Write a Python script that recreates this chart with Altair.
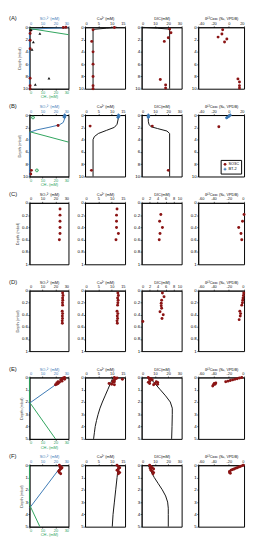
import altair as alt
import pandas as pd

RED = "#8b1414"
BLUE = "#3b78b4"
GREEN = "#2ca25a"
BLACK = "#111111"

# ---------------- data ----------------
# Row A
A_so4_d = [0, 0.05, 0.5, 1.0, 2.1, 3.5, 8.3, 9.5, 10]
A_so4_v = [28, 26, 1, 0.5, 0.5, 0.5, 0.5, 0.5, 0.5]
A_so4m_d = [0, 0.1, 0.2, 0.35, 0.5, 10]
A_so4m_v = [30, 27, 12, 2, 0, 0]
A_ch4m_d = [0.2, 1.2]
A_ch4m_v = [0, 30]
A_ch4_d = [0.4, 1.0, 2.4, 3.6, 8.3, 9.3]
A_ch4_v = [1, 8, 3, 2, 15, 4.5]
A_ca_d = [0.05, 0.4, 2.3, 4, 6, 8, 9.5, 10]
A_ca_v = [11, 3, 2.5, 3, 3, 3, 3, 3]
A_cam_d = [0, 0.15, 0.35, 10]
A_cam_v = [12, 8, 3, 3]
A_dic_d = [0.3, 0.9, 1.7, 2.3, 8.5, 9.4, 9.9]
A_dic_v = [21, 22, 20, 17, 14, 18, 18]
A_dicm_d = [0, 0.15, 0.3, 10]
A_dicm_v = [0, 12, 21, 21]
A_c13_d = [0.4, 1.1, 1.6, 1.9, 2.4, 8.4, 8.9, 9.5, 9.9]
A_c13_v = [-8, -9, -14, -2.5, -5.5, 12, 14, 14, 14]

# Row B
B_so4_d = [1.7, 9.0, 9.6]
B_so4_v = [22, 1.5, 1]
B_so4bt_d = [0, 0.1, 0.2, 0.3, 0.4]
B_so4bt_v = [27, 27.5, 27, 26.5, 27]
B_so4m_d = [0, 0.6, 1.2, 1.6, 2.0, 2.4, 2.8, 10]
B_so4m_v = [27, 27, 26, 23, 15, 6, 0, 0]
B_ch4m_d = [2.7, 4.4]
B_ch4m_v = [0, 30]
B_ch4_d = [0.4, 9.0]
B_ch4_v = [2.7, 5.7]
B_ca_d = [1.8, 9.0]
B_ca_v = [1.9, 2.4]
B_cabt_d = [0, 0.1, 0.2, 0.3, 0.4]
B_cabt_v = [12.5, 12.8, 12.4, 12.6, 12.3]
B_cam_d = [0, 0.5, 1.5, 2.0, 2.5, 3.0, 3.5, 4.0, 10]
B_cam_v = [12.5, 12.5, 12, 11, 8, 5, 3.5, 3, 3]
B_dic_d = [1.8, 9.0]
B_dic_v = [8, 20]
B_dicbt_d = [0, 0.1, 0.2, 0.3, 0.4]
B_dicbt_v = [5, 5.3, 4.8, 5.2, 5]
B_dicm_d = [0, 1.0, 1.5, 1.9, 2.2, 2.6, 3.0, 10]
B_dicm_v = [5, 5, 5.5, 7, 12, 19, 21, 21]
B_c13_d = [1.9, 9.0]
B_c13_v = [-13, 14.5]
B_c13bt_d = [0, 0.1, 0.2, 0.3, 0.4, 0.45]
B_c13bt_v = [2, 1, 0, -1, -2, -3]
B_sites = ["SO3C", "BT-2"]

# Row C
C_d = [0.1, 0.2, 0.3, 0.4, 0.5, 0.6]
C_so4_v = [23.5, 23.5, 23.5, 23.5, 23.5, 23]
C_ca_v = [12, 11.8, 11.8, 11.8, 12.5, 11.6]
C_dic_d = [0.19, 0.3, 0.4, 0.5, 0.6]
C_dic_v = [4.8, 4.5, 5.2, 4.6, 4.4]
C_c13_v = [0, -2, -7, -4, -3]

# Row D
D_d = [0.04, 0.08, 0.12, 0.16, 0.2, 0.24, 0.34, 0.38, 0.42, 0.46, 0.5, 0.54]
D_so4_v = [25.5, 25.8, 25.5, 25.6, 25.4, 25.5, 25.2, 25.5, 25.3, 25.4, 25.2, 25.3]
D_ca_v = [12.3, 12.5, 12.2, 12.4, 12.3, 12.2, 12.0, 12.3, 12.1, 12.2, 12.0, 12.1]
D_dic_d = [0.04, 0.1, 0.16, 0.21, 0.25, 0.29, 0.35, 0.4, 0.46, 0.51]
D_dic_v = [5.2, 5.6, 5.0, 4.9, 4.9, 5.0, 4.6, 5.4, 5.1, 0.3]
D_c13_d = [0.04, 0.08, 0.12, 0.16, 0.2, 0.24, 0.34, 0.38, 0.42, 0.48]
D_c13_v = [-0.4, -0.8, -1.3, -1.7, -2.1, -3, -5.5, -4.5, -5, -6.4]

# Row E
E_so4_d = [0, 0.05, 0.1, 0.15, 0.2, 0.3, 0.35, 0.4, 0.45, 0.5, 0.55, 0.6]
E_so4_v = [27, 26, 25, 27, 24, 25, 22, 23, 21, 22, 21, 20]
E_so4m_d = [0, 2.1, 2.8]
E_so4m_v = [28, 0, 0]
E_ch4m_d = [0, 2.0, 5]
E_ch4m_v = [0, 0, 20]
E_ca_d = [0, 0.05, 0.1, 0.15, 0.2, 0.3, 0.35, 0.4, 0.5, 0.55, 0.6]
E_ca_v = [11, 12, 11.5, 14, 11, 10.5, 11, 10.5, 9, 10, 11]
E_cam_d = [0, 0.5, 1, 1.5, 2, 2.5, 3, 3.5, 4, 4.5, 5]
E_cam_v = [10.5, 9.5, 8.5, 7.5, 6.5, 5.6, 4.9, 4.3, 3.8, 3.5, 3.2]
E_dic_d = [0, 0.1, 0.15, 0.2, 0.3, 0.35, 0.4, 0.4, 0.5, 0.5, 0.55, 0.6]
E_dic_v = [5, 7, 6, 8, 6, 11, 5, 12, 10, 6, 12, 9]
E_dicm_d = [0, 0.5, 1, 1.5, 2, 2.5, 3, 4, 5]
E_dicm_v = [6, 10, 14, 18, 21.5, 23, 23, 22.8, 22.5]
E_c13_d = [0, 0.05, 0.1, 0.15, 0.2, 0.25, 0.3, 0.35, 0.45, 0.5, 0.55, 0.6, 0.7]
E_c13_v = [-3, -6, -9, -12, -15, -18, -21, -24, -37, -39, -38, -40, -41]

# Row F
F_so4_d = [0, 0.1, 0.15, 0.2, 0.25, 0.3, 0.4, 0.5, 0.6, 0.7]
F_so4_v = [23, 24, 23.5, 25, 24.5, 24, 23, 22.5, 23, 24]
F_so4m_d = [0, 3.5]
F_so4m_v = [25, 0]
F_ch4m_d = [0, 3.2, 5]
F_ch4m_v = [0, 0, 8]
F_ca_d = [0, 0.1, 0.2, 0.3, 0.4, 0.5, 0.6, 0.7]
F_ca_v = [12, 12.5, 13, 12.5, 12, 12.5, 13, 12.5]
F_cam_d = [0, 1, 2, 3, 4, 5]
F_cam_v = [12.5, 12, 11.5, 11, 10.5, 10.2]
F_dic_d = [0, 0.1, 0.2, 0.25, 0.3, 0.4, 0.5, 0.6, 0.7]
F_dic_v = [6, 7, 8, 6.5, 9, 7, 8, 9, 8.5]
F_dicm_d = [0, 0.5, 1, 1.5, 2, 2.5, 3, 3.5, 4, 5]
F_dicm_v = [5, 7, 9.5, 12.5, 15.5, 18, 19.5, 20, 20, 20]
F_c13_d = [0, 0.05, 0.1, 0.15, 0.2, 0.25, 0.3, 0.35, 0.4, 0.5, 0.6, 0.65]
F_c13_v = [-1, -3, -5, -7, -9, -11, -13, -15, -17, -19, -19, -18]

# axis settings
Y_DEEP = ([0, 10], [0, 2, 4, 6, 8, 10])
Y_SHALLOW = ([0, 1], [0, 0.2, 0.4, 0.6, 0.8, 1])
Y_MID = ([0, 5], [0, 1, 2, 3, 4, 5])
X_30 = ([0, 30], [0, 10, 20, 30])
X_15 = ([0, 15], [0, 5, 10, 15])
X_10 = ([0, 10], [0, 2, 4, 6, 8, 10])
X_C13A = ([-40, 20], [-40, -20, 0, 20])
X_C13C = ([-60, 0], [-60, -40, -20, 0])

T_SO4 = "SO\u2084\u00b2\u207b (mM)"
T_CA = "Ca\u00b2\u207a (mM)"
T_DIC = "DIC(mM)"
T_C13 = "\u03b4\u00b9\u00b3C\u1d05\u026a\u1d04 (\u2030, VPDB)"
T_CH4 = "CH\u2084 (mM)"

W = [40, 41, 41, 47]
ROW_H = {"A": 63, "B": 63, "C": 63, "D": 62, "E": 63, "F": 63}
LBL = "'' + datum.value"


def df_of(d, v):
    return pd.DataFrame({"d": d, "v": v, "i": list(range(len(d)))})


def leg():
    return alt.Legend(orient="bottom-right", title=None, labelFontSize=4, symbolSize=8,
                      padding=2, offset=3, rowPadding=0, labelOffset=1,
                      strokeColor="black", fillColor="white", labelFont="Liberation Sans")


def build(row, col, label, ydef, xdef, xtitle, tcolor, points, lines,
          bottom=None, legend_pts=None):
    H = ROW_H[row]
    ydom, yticks = ydef
    xdom, xticks = xdef
    xax = alt.Axis(orient="top", values=xticks, title=xtitle, labelExpr=LBL,
                   titleColor=tcolor, labelColor=tcolor)
    xenc = alt.X("v:Q", scale=alt.Scale(domain=xdom, nice=False, zero=False), axis=xax)
    yax = alt.Axis(values=yticks, title="Depth (mbsf)" if col == 0 else None, labelExpr=LBL,
                   titleColor="#444444")
    yenc = alt.Y("d:Q", scale=alt.Scale(domain=ydom, reverse=True, nice=False), axis=yax)

    layers = []
    for (d, v, color) in lines:
        layers.append(alt.Chart(df_of(d, v)).mark_line(color=color, strokeWidth=1)
                      .encode(x=xenc, y=yenc, order="i:Q"))
    for (d, v, color, shape) in points:
        layers.append(alt.Chart(df_of(d, v)).mark_point(
            filled=True, size=9, color=color, shape=shape, opacity=1, strokeWidth=0.8)
            .encode(x=xenc, y=yenc))
    if legend_pts is not None:
        layers.append(alt.Chart(legend_pts).mark_point(filled=True, size=9, opacity=1)
                      .encode(x=xenc, y=yenc,
                              color=alt.Color("site:N", scale=alt.Scale(domain=B_sites, range=[RED, BLUE]),
                                              legend=leg()),
                              shape=alt.Shape("site:N", scale=alt.Scale(domain=B_sites, range=["circle", "cross"]),
                                              legend=leg())))
    if label:
        layers.append(alt.Chart(pd.DataFrame({"t": [label]})).mark_text(
            align="left", baseline="middle", fontSize=6, font="Liberation Sans", color="#222222")
            .encode(x=alt.value(-21), y=alt.value(-9), text="t:N"))
    main = alt.layer(*layers)
    if bottom is None:
        return main.properties(width=W[col], height=H)

    bax = alt.Axis(orient="bottom", values=X_30[1], title=T_CH4, labelExpr=LBL,
                   titleColor=GREEN, labelColor=GREEN)
    benc = alt.X("v:Q", scale=alt.Scale(domain=X_30[0], nice=False, zero=False), axis=bax)
    blayers = []
    for (d, v, color) in bottom.get("lines", []):
        blayers.append(alt.Chart(df_of(d, v)).mark_line(color=color, strokeWidth=1)
                       .encode(x=benc, y=yenc, order="i:Q"))
    for (d, v, color, shape) in bottom.get("points", []):
        blayers.append(alt.Chart(df_of(d, v)).mark_point(
            filled=shape != "cross", size=9, color=color, shape=shape, opacity=1, strokeWidth=0.8)
            .encode(x=benc, y=yenc))
    return alt.layer(main, alt.layer(*blayers)).resolve_scale(x="independent").properties(
        width=W[col], height=H)


panels = []
# Row A
panels.append(build("A", 0, "(A)", Y_DEEP, X_30, T_SO4, BLUE,
                    [(A_so4_d, A_so4_v, RED, "circle")],
                    [(A_so4m_d, A_so4m_v, BLUE)],
                    bottom={"lines": [(A_ch4m_d, A_ch4m_v, GREEN)],
                            "points": [(A_ch4_d, A_ch4_v, BLACK, "triangle-up")]}))
panels.append(build("A", 1, None, Y_DEEP, X_15, T_CA, BLACK,
                    [(A_ca_d, A_ca_v, RED, "circle")], [(A_cam_d, A_cam_v, BLACK)]))
panels.append(build("A", 2, None, Y_DEEP, X_30, T_DIC, BLACK,
                    [(A_dic_d, A_dic_v, RED, "circle")], [(A_dicm_d, A_dicm_v, BLACK)]))
panels.append(build("A", 3, None, Y_DEEP, X_C13A, T_C13, BLACK,
                    [(A_c13_d, A_c13_v, RED, "circle")], []))
# Row B
panels.append(build("B", 0, "(B)", Y_DEEP, X_30, T_SO4, BLUE,
                    [(B_so4_d, B_so4_v, RED, "circle"), (B_so4bt_d, B_so4bt_v, BLUE, "cross")],
                    [(B_so4m_d, B_so4m_v, BLUE)],
                    bottom={"lines": [(B_ch4m_d, B_ch4m_v, GREEN)],
                            "points": [(B_ch4_d, B_ch4_v, GREEN, "cross")]}))
panels.append(build("B", 1, None, Y_DEEP, X_15, T_CA, BLACK,
                    [(B_ca_d, B_ca_v, RED, "circle"), (B_cabt_d, B_cabt_v, BLUE, "cross")],
                    [(B_cam_d, B_cam_v, BLACK)]))
panels.append(build("B", 2, None, Y_DEEP, X_30, T_DIC, BLACK,
                    [(B_dic_d, B_dic_v, RED, "circle"), (B_dicbt_d, B_dicbt_v, BLUE, "cross")],
                    [(B_dicm_d, B_dicm_v, BLACK)]))
B_leg = pd.DataFrame({"d": B_c13_d + B_c13bt_d, "v": B_c13_v + B_c13bt_v,
                      "site": [B_sites[0]] * len(B_c13_d) + [B_sites[1]] * len(B_c13bt_d)})
panels.append(build("B", 3, None, Y_DEEP, X_C13A, T_C13, BLACK, [], [], legend_pts=B_leg))
# Row C
panels.append(build("C", 0, "(C)", Y_SHALLOW, X_30, T_SO4, BLACK, [(C_d, C_so4_v, RED, "circle")], []))
panels.append(build("C", 1, None, Y_SHALLOW, X_15, T_CA, BLACK, [(C_d, C_ca_v, RED, "circle")], []))
panels.append(build("C", 2, None, Y_SHALLOW, X_10, T_DIC, BLACK, [(C_dic_d, C_dic_v, RED, "circle")], []))
panels.append(build("C", 3, None, Y_SHALLOW, X_C13C, T_C13, BLACK, [(C_dic_d, C_c13_v, RED, "circle")], []))
# Row D
panels.append(build("D", 0, "(D)", Y_SHALLOW, X_30, T_SO4, BLACK, [(D_d, D_so4_v, RED, "circle")], []))
panels.append(build("D", 1, None, Y_SHALLOW, X_15, T_CA, BLACK, [(D_d, D_ca_v, RED, "circle")], []))
panels.append(build("D", 2, None, Y_SHALLOW, X_10, T_DIC, BLACK, [(D_dic_d, D_dic_v, RED, "circle")], []))
panels.append(build("D", 3, None, Y_SHALLOW, X_C13C, T_C13, BLACK, [(D_c13_d, D_c13_v, RED, "circle")], []))
# Row E
panels.append(build("E", 0, "(E)", Y_MID, X_30, T_SO4, BLUE,
                    [(E_so4_d, E_so4_v, RED, "circle")], [(E_so4m_d, E_so4m_v, BLUE)],
                    bottom={"lines": [(E_ch4m_d, E_ch4m_v, GREEN)]}))
panels.append(build("E", 1, None, Y_MID, X_15, T_CA, BLACK,
                    [(E_ca_d, E_ca_v, RED, "circle")], [(E_cam_d, E_cam_v, BLACK)]))
panels.append(build("E", 2, None, Y_MID, X_30, T_DIC, BLACK,
                    [(E_dic_d, E_dic_v, RED, "circle")], [(E_dicm_d, E_dicm_v, BLACK)]))
panels.append(build("E", 3, None, Y_MID, X_C13C, T_C13, BLACK, [(E_c13_d, E_c13_v, RED, "circle")], []))
# Row F
panels.append(build("F", 0, "(F)", Y_MID, X_30, T_SO4, BLUE,
                    [(F_so4_d, F_so4_v, RED, "circle")], [(F_so4m_d, F_so4m_v, BLUE)],
                    bottom={"lines": [(F_ch4m_d, F_ch4m_v, GREEN)]}))
panels.append(build("F", 1, None, Y_MID, X_15, T_CA, BLACK,
                    [(F_ca_d, F_ca_v, RED, "circle")], [(F_cam_d, F_cam_v, BLACK)]))
panels.append(build("F", 2, None, Y_MID, X_30, T_DIC, BLACK,
                    [(F_dic_d, F_dic_v, RED, "circle")], [(F_dicm_d, F_dicm_v, BLACK)]))
panels.append(build("F", 3, None, Y_MID, X_C13C, T_C13, BLACK, [(F_c13_d, F_c13_v, RED, "circle")], []))

chart = alt.concat(*panels, columns=4, spacing={"row": 27, "column": 17},
                   bounds="flush", align="each").resolve_legend(
    color="independent", shape="independent").configure_view(
    stroke="black", strokeWidth=1).configure_axis(
    labelFontSize=4, titleFontSize=4, titleFontWeight="normal",
    labelFont="Liberation Sans", titleFont="Liberation Sans",
    tickSize=1.5, labelPadding=0.5, titlePadding=0.5, grid=False,
    domainColor="black", tickColor="black", labelColor="black",
    tickWidth=0.6, domainWidth=0.8).configure_axisY(labelFontSize=4.5, titlePadding=1.5).properties(padding=0)

chart.save("out.html", embed_options={"renderer": "svg", "actions": False})
